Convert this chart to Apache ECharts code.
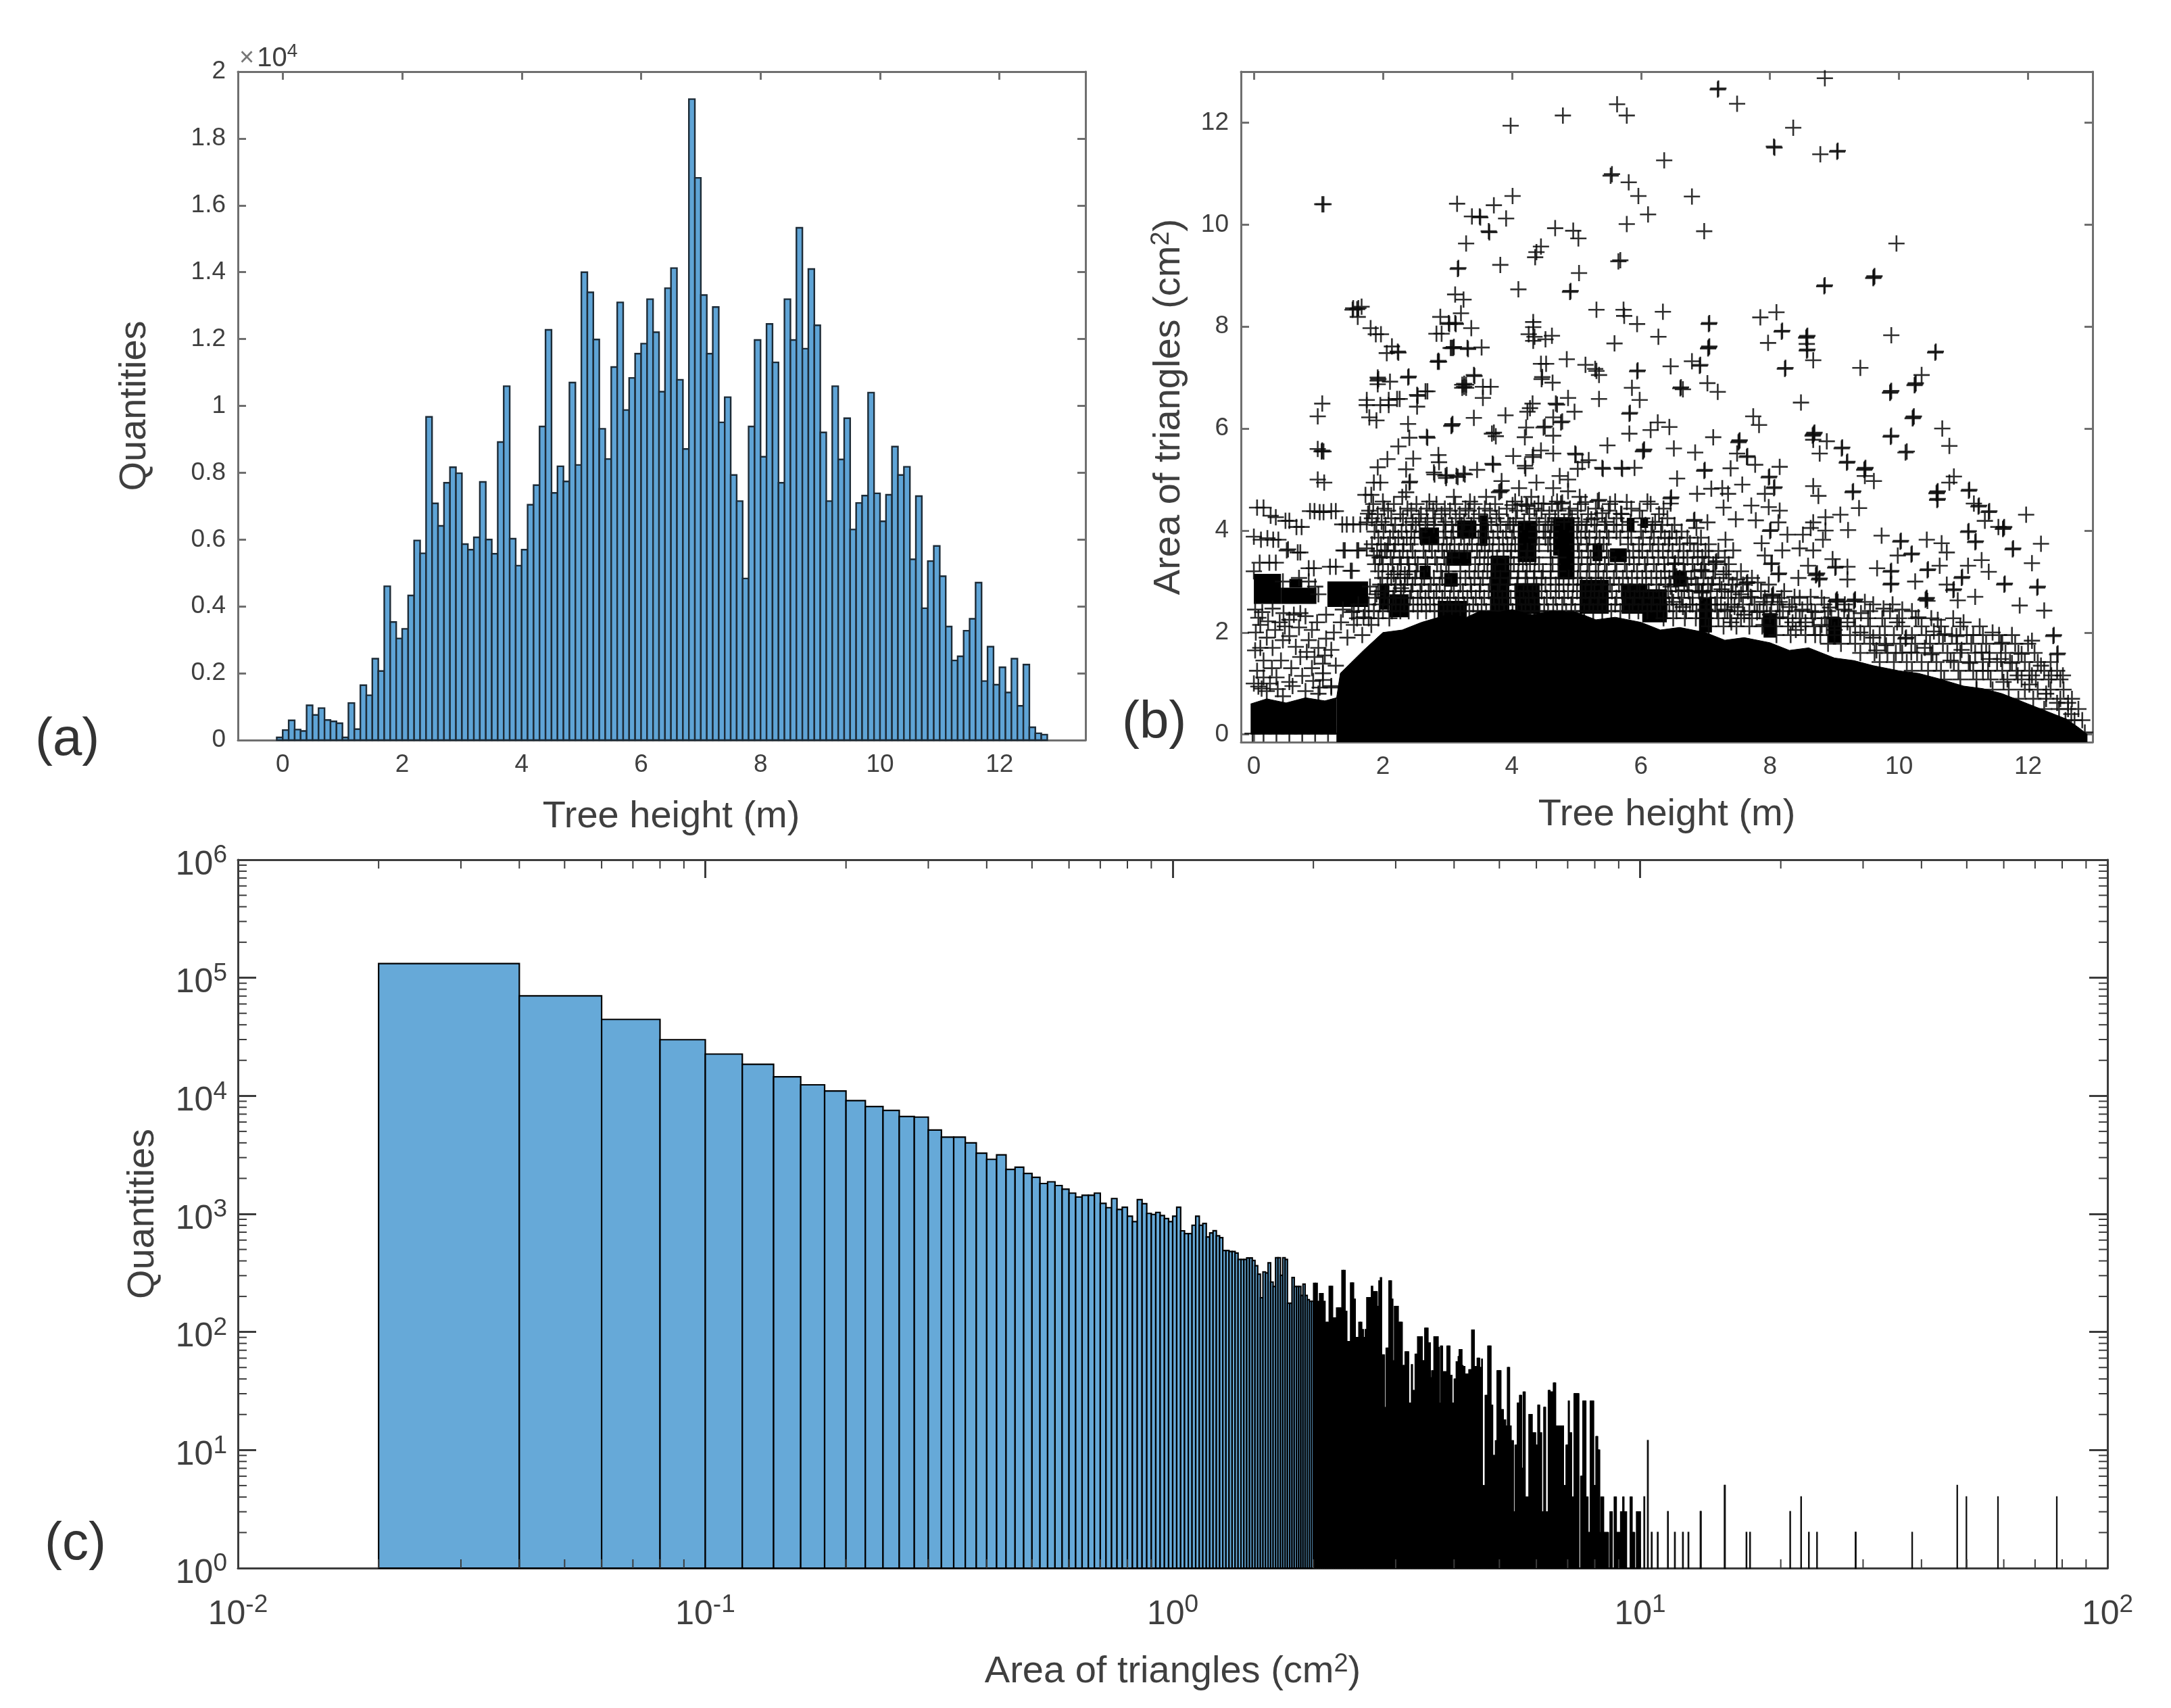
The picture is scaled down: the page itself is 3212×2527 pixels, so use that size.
<!DOCTYPE html>
<html><head><meta charset="utf-8"><style>html,body{margin:0;padding:0;background:#fff}#c{width:3212px;height:2527px}</style>
<script src="https://cdn.jsdelivr.net/npm/echarts@6/dist/echarts.min.js"></script></head><body><div id="c"></div>
<script>
// Panel (a): histogram of tree height, bins 0.1 m wide, first bin starts at -0.1
const heightBinStart = -0.1, heightBinWidth = 0.1;
const heightCounts = [80,300,590,315,274,1041,753,959,603,562,507,82,1110,329,1644,1342,2438,2068,4603,3534,3041,3329,4329,5973,5589,9671,7082,6411,7699,8164,7986,5863,5699,6068,7726,6000,5575,8918,10589,6027,5219,5699,7041,7630,9384,12274,7397,8192,7740,10699,8233,14000,13397,11986,9315,8411,11164,13096,9877,10836,11562,11863,13192,12205,10425,13521,14123,10781,8712,19178,16822,13315,11562,12959,9507,10260,7932,7151,4836,9384,11973,8479,12452,11301,7699,13192,11973,15329,11712,14096,12411,9205,7151,10589,8397,9630,6301,7096,7315,10397,7384,6548,7342,8781,7932,8178,5411,7301,3945,5356,5808,4904,3397,2384,2507,3274,3630,4712,1767,2795,1658,2178,1425,2438,1027,2260,384,205,164];
const heightTicks = [0,2,4,6,8,10,12];
const countTicks = [0,2000,4000,6000,8000,10000,12000,14000,16000,18000,20000];
const countTickLabels = ['0','0.2','0.4','0.6','0.8','1','1.2','1.4','1.6','1.8','2'];

// Panel (b): solid part of the scatter, upper edge
const massLeftX = [-0.05,0.2,0.5,0.8,1.1,1.28];
const massLeftY = [0.6,0.7,0.62,0.72,0.66,0.72];
const massX = [1.28,1.34,1.5,1.7,2,2.3,2.6,3,3.3,3.5,3.8,4,4.3,4.6,5,5.3,5.6,6,6.3,6.6,7,7.3,7.6,8,8.3,8.6,9,9.3,9.6,10,10.3,10.6,11,11.3,11.6,12,12.3,12.6,12.8,12.92];
const massY = [0.7,1.2,1.4,1.65,2.0,2.05,2.2,2.35,2.3,2.42,2.4,2.45,2.35,2.42,2.4,2.25,2.3,2.2,2.05,2.1,2.0,1.85,1.9,1.8,1.65,1.7,1.5,1.45,1.35,1.25,1.2,1.1,0.95,0.9,0.8,0.6,0.45,0.3,0.12,0];
// Overplotted regions where the crosses merge to black: [x0, x1, y0, y1]
const blackBlocks = [[0.0,0.42,2.56,3.15],[0.42,0.97,2.56,2.88],[1.14,1.77,2.5,3.0],[0.55,0.75,2.88,3.05],[2.57,2.87,3.72,4.06],[4.09,4.38,3.38,4.19],[4.64,4.97,3.51,4.26],[4.72,4.97,3.04,3.51],[5.78,5.9,3.98,4.25],[5.99,6.11,4.05,4.25],[5.52,5.78,3.38,3.65],[2.99,3.37,3.31,3.58],[2.57,2.74,3.04,3.31],[2.95,3.16,2.9,3.17],[3.67,3.96,2.37,3.51],[4.05,4.43,2.37,2.97],[5.05,5.5,2.37,3.03],[5.7,6.1,2.37,2.95],[6.02,6.4,2.2,2.85],[6.9,7.1,2.0,2.68],[7.9,8.1,1.9,2.38],[8.9,9.1,1.8,2.3],[2.1,2.4,2.3,2.75],[2.85,3.3,2.3,2.62],[3.15,3.45,3.85,4.2],[3.5,3.62,3.7,4.3],[1.95,2.1,2.45,2.95],[5.25,5.4,3.4,3.75],[6.5,6.7,2.9,3.2]];
// Panel (b): individual crosses, [height, area]
const plusPoints = [
[3.98,11.94],[4.79,12.14],[5.63,12.36],[5.78,12.14],[6.36,11.26],[5.53,10.96],[5.55,10.99],[5.81,10.83],[5.96,10.56],[6.11,10.20],[5.78,10.01],[4.01,10.56],[3.72,10.38],[3.15,10.41],[3.38,10.16],[3.50,10.16],[3.51,10.14],[3.91,10.12],[3.64,9.87],[3.65,9.85],[3.29,9.63],[3.82,9.21],[3.16,9.13],[3.17,9.15],[4.10,8.73],[4.67,9.93],[4.95,9.88],[5.03,9.73],[4.45,9.57],[4.38,9.46],[4.36,9.36],[5.65,9.28],[5.68,9.30],[5.04,9.05],[4.90,8.68],[4.91,8.70],[5.31,8.33],[5.73,8.33],[5.74,8.21],[5.94,8.05],[6.34,8.29],[5.59,7.67],[6.27,7.80],
[3.12,8.63],[3.25,8.53],[3.21,8.26],[2.89,8.19],[3.02,8.07],[3.03,8.05],[3.12,8.07],[3.13,8.05],[3.37,7.97],[2.83,7.86],[2.91,7.86],[3.05,7.58],[3.07,7.58],[3.09,7.58],[3.10,7.60],[3.31,7.58],[3.32,7.56],[3.53,7.59],[2.85,7.31],[2.87,7.31],[2.86,7.33],
[1.54,8.36],[1.60,8.34],[1.62,8.36],[1.67,8.39],[1.53,8.33],[1.61,8.19],[1.81,7.97],[1.89,7.85],[1.97,7.85],[2.14,7.61],[2.06,7.48],[2.23,7.51],[2.24,7.49],
[1.06,10.40],[1.08,10.40],[1.06,6.49],[0.99,6.24],[0.99,5.60],[1.05,5.55],[1.08,5.55],[1.06,5.57],[0.99,5.00],[1.09,4.94],
[1.92,7.00],[1.92,6.87],[1.92,6.94],[1.93,6.97],[2.11,6.92],[2.39,7.00],[2.40,7.02],[1.75,6.46],[1.75,6.56],[2.09,6.46],[2.09,6.56],[2.22,6.58],[2.26,6.58],[2.53,6.66],[2.54,6.64],[2.53,6.43],[2.69,6.73],[2.66,6.73],[1.90,6.16],[1.79,6.22],[1.96,6.46],[2.39,6.09],[3.07,6.07],[3.08,6.09],[3.06,6.05],[3.41,6.21],[2.41,5.82],[2.24,5.65],[2.69,5.82],[2.68,5.84],
[3.23,6.80],[3.26,6.82],[3.29,6.80],[3.23,6.86],[3.26,6.88],[3.29,6.86],[3.41,7.05],[3.42,7.03],[3.55,6.60],[3.67,6.82],[3.55,6.82],[3.90,6.26],[3.69,5.90],[3.72,5.92],[3.75,5.85],[4.20,5.83],[4.22,6.02],[4.33,8.09],[4.33,7.99],[4.26,7.85],[4.33,7.72],[4.35,7.80],[4.52,7.75],[4.62,7.82],[4.45,7.27],[4.53,7.27],[4.85,7.36],[4.46,6.97],[4.47,7.01],[4.63,6.90],[4.87,6.60],[4.68,6.49],[4.70,6.47],[4.32,6.49],[4.24,6.33],[4.28,6.40],[4.97,6.33],[4.76,6.12],[4.78,6.14],[4.64,6.22],[4.49,6.02],[4.51,6.04],[4.64,5.86],
[5.14,7.25],[5.29,7.17],[5.31,7.13],[5.35,7.05],[5.35,6.58],[5.94,7.12],[5.95,7.14],[5.86,6.80],[5.98,6.56],[5.82,6.29],[5.83,6.31],[5.82,5.90],[6.26,6.12],[6.15,5.97],[6.04,5.57],[6.05,5.59],[6.03,5.55],[5.48,5.67],[4.64,5.51],[4.45,5.57],[4.32,5.44],[4.33,5.48],[4.02,5.46],[4.20,5.27],[4.21,5.22],[4.98,5.51],[4.99,5.49],[5.09,5.34],[5.19,5.38],[5.40,5.23],[5.41,5.21],[5.70,5.23],[5.71,5.21],[5.90,5.23],
[3.70,5.31],[3.71,5.29],[3.46,5.19],[3.25,5.12],[3.27,5.10],[3.14,5.07],[3.16,5.05],[2.97,5.07],[2.99,5.09],[2.98,5.03],[2.79,5.14],[2.80,5.10],[2.86,5.48],[2.87,5.34],[2.07,5.40],[1.92,5.24],[2.36,5.20],[2.47,5.41],[2.41,4.94],[2.42,4.96],[2.36,4.75],[1.96,4.94],[1.86,4.94],[1.73,4.70],[1.82,4.70],[3.84,4.97],[3.82,4.77],[3.84,4.79],[3.80,4.75],[4.11,4.83],[4.38,4.94],[4.64,4.83],[4.74,5.07],[4.87,5.00],[4.87,4.77],[5.02,5.21],[5.78,4.56],[5.33,4.58],[5.35,4.60],[5.14,4.56],[4.76,4.53],[4.78,4.55],[4.49,4.53],[4.41,4.53],[4.22,4.50],[4.24,4.48],[4.01,4.50],[5.40,4.34],[5.69,4.33],[5.23,4.22],
[0.05,4.45],[0.15,4.45],[0.26,4.29],[0.34,4.26],[0.49,4.19],[0.55,4.19],[0.66,4.07],[0.74,4.07],[0.87,4.38],[0.94,4.38],[1.02,4.36],[1.08,4.36],[1.20,4.38],[1.27,4.38],[1.37,4.12],[1.44,4.12],[1.54,4.12],[1.65,4.12],[1.75,4.16],[1.77,4.33],
[0.0,3.88],[0.11,3.82],[0.21,3.85],[0.30,3.82],[0.38,3.82],[0.51,3.61],[0.53,3.63],[0.68,3.57],[0.72,3.57],[1.39,3.61],[1.41,3.61],[1.60,3.61],[1.62,3.61],[1.75,3.65],[1.86,3.51],[1.98,3.48],[2.03,3.61],[0.85,3.26],[0.93,3.26],[1.18,3.29],[1.27,3.29],[1.50,3.21],[1.52,3.21],[2.28,2.87],[2.17,3.14],[2.34,3.14],
[0.09,3.37],[0.24,3.37],[0.34,3.37],[0.70,3.07],[0.0,3.2],[0.45,3.0],[0.85,3.0],[0.95,2.9],[1.0,2.75],[1.8,2.9],[1.9,2.75],
[0.03,2.0],[0.1,2.15],[0.1,1.7],[0.29,1.7],[0.55,1.93],[0.72,1.52],[0.94,1.52],[1.07,1.2],[1.07,1.07],[1.2,1.66],[0.98,2.2],[0.72,2.38],[0.46,2.38],[0.29,2.47],[0.07,2.29],[0.55,1.03],[0.07,0.94],[0.2,0.85],[0.37,0.89],[1.07,1.39],[1.24,2.0],[0.4,2.2],[0.55,2.25],[0.7,2.1],[0.85,1.85],[0.15,1.45],[0.05,1.25],[0.9,1.3],[1.1,1.55],[1.35,2.2],[1.45,1.9],[1.55,2.15],[1.7,2.3],
[0.02,2.45],[0.13,2.4],[0.22,2.22],[0.33,2.05],[0.48,2.12],[0.62,2.35],[0.8,2.32],[0.9,2.05],[1.12,2.35],[1.0,1.7],[0.82,1.62],[0.65,1.72],[0.45,1.85],[0.2,1.9],[0.02,1.65],[0.28,1.3],[0.42,1.45],[0.58,1.3],[0.75,1.15],[0.92,1.05],[1.12,1.88],[1.27,1.35],[1.2,0.92],[1.02,0.92],[0.35,1.12],[0.15,1.12],[1.38,2.45],[1.52,2.4],[1.68,1.95],[1.82,2.15],
// right half, read one by one
[8.85,12.87],[7.19,12.65],[7.20,12.67],[7.49,12.37],[8.36,11.90],[8.06,11.53],[8.07,11.51],[8.78,11.38],[9.04,11.43],[9.05,11.45],[6.79,10.55],[6.98,9.87],[9.96,9.63],[9.61,8.97],[9.62,8.99],[9.60,8.95],[8.84,8.79],[8.85,8.81],[7.05,8.05],[7.06,8.07],[7.05,7.59],[7.06,7.61],[7.04,7.57],[7.85,8.18],[8.10,8.28],[8.18,7.90],[8.19,7.92],[7.97,7.68],[8.57,7.80],[8.58,7.82],[8.56,7.78],[8.57,7.53],[8.58,7.55],[8.57,7.66],[8.67,7.34],[8.23,7.17],[8.24,7.19],[9.88,7.83],[10.56,7.49],[10.57,7.51],[9.40,7.19],[10.35,7.05],[10.25,6.87],[10.26,6.89],[10.24,6.85],[9.87,6.72],[9.88,6.74],[9.86,6.70],[10.22,6.22],[10.23,6.24],[10.21,6.20],[10.67,6.00],[10.78,5.66],[9.87,5.84],[9.88,5.86],[10.10,5.53],[10.12,5.55],[8.48,6.51],[7.74,6.24],[7.83,6.07],[8.67,5.88],[8.68,5.90],[8.66,5.86],[8.69,5.92],[8.67,5.78],[8.88,5.75],[8.77,5.51],[9.11,5.61],[9.12,5.63],[9.19,5.33],[9.20,5.35],[9.47,5.21],[9.48,5.23],[9.46,5.19],[9.47,5.07],[9.61,4.97],
[6.46,7.22],[6.79,7.32],[6.91,7.23],[6.92,7.25],[6.61,6.79],[6.62,6.81],[6.65,6.77],[7.03,6.89],[7.19,6.72],[6.44,6.03],[7.12,5.83],[7.52,5.75],[7.53,5.77],[7.51,5.73],[6.51,5.61],[6.84,5.53],[7.49,5.51],[7.64,5.44],[7.65,5.46],[7.77,5.29],[8.15,5.25],[7.98,5.04],[7.99,5.06],[8.06,4.83],[8.07,4.85],[6.98,5.17],[6.99,5.19],[7.39,5.22],[6.56,5.02],[7.57,4.90],[7.09,4.82],[7.26,4.83],[7.35,4.72],[6.87,4.72],[6.46,4.63],[6.47,4.65],[6.46,4.53],[7.92,4.72],[7.98,4.46],[8.67,4.87],[8.75,4.68],[9.28,4.75],[9.29,4.77],[9.38,4.44],[9.09,4.31],[8.86,4.26],[9.21,4.01],[8.15,4.39],[7.71,4.49],[7.28,4.45],[7.47,4.22],[7.78,4.20],[6.82,4.19],[6.83,4.21],[6.86,4.05],[7.03,4.16],[8.13,4.16],[8.0,3.99],[8.01,4.01],[8.67,4.16],[8.63,4.05],[8.86,4.0],[8.51,3.92],[8.27,3.92],[7.87,3.75],[8.82,3.82],[8.46,3.65],[8.67,3.61],[8.19,3.61],[7.92,3.51],[6.44,3.85],[6.76,3.75],[7.31,3.82],[7.43,3.61],[6.95,3.48],[7.16,3.38],[7.17,3.40],[6.52,3.34],[6.53,3.36],[6.93,3.21],[6.94,3.23],[8.02,3.34],[8.03,3.36],[8.13,3.14],[8.14,3.16],[8.59,3.31],[8.72,3.14],[8.73,3.16],[8.71,3.12],[8.97,3.44],[9.01,3.27],[9.02,3.29],[9.20,3.29],[8.76,3.04],[8.77,3.06],[9.20,3.04],[8.44,3.07],[7.28,3.14],[7.49,3.04],[7.64,2.97],[7.65,2.99],[7.81,2.98],[6.95,2.80],[6.96,2.82],[6.94,2.78],[6.67,2.83],[6.46,2.90],[8.04,2.73],[8.05,2.75],[8.03,2.71],[8.63,2.70],[8.38,2.70],[9.03,2.63],[9.04,2.65],[9.02,2.61],[9.05,2.60],[9.31,2.63],[9.32,2.65],[9.30,2.61],[8.93,2.49],[9.47,2.60],
[6.55,3.1],[6.7,3.05],[6.85,2.95],[7.1,2.95],[7.25,2.85],[7.4,2.8],[7.55,2.75],[7.7,2.7],[7.9,2.6],[8.15,2.6],[8.3,2.5],[8.5,2.45],[8.7,2.4],[6.5,2.6],[6.65,2.5],[6.8,2.55],[7.0,2.45],[7.15,2.55],[7.3,2.45],[7.45,2.5],[7.6,2.35],[7.8,2.4],[8.0,2.35],[8.15,2.3],[8.35,2.2],[8.55,2.2],[8.8,2.15],[9.0,2.05],[9.2,2.2],[9.4,2.0],[9.6,1.9],[9.8,1.75],[8.95,2.3],[9.15,2.45],[7.4,2.2],[7.9,2.15],[8.4,2.05],[8.7,1.95],
[9.66,3.26],[9.87,3.19],[9.88,3.21],[9.87,2.94],[9.88,2.96],[9.73,3.90],[10.02,3.78],[10.03,3.80],[10.19,3.53],[10.20,3.55],[9.98,3.51],[10.43,3.82],[10.66,3.75],[10.74,3.57],[10.44,3.22],[10.45,3.24],[10.63,3.31],[10.25,3.00],[10.97,3.07],[10.98,3.09],[10.74,2.94],[10.84,2.83],[10.85,2.85],[10.42,2.66],[10.43,2.68],[10.41,2.64],[10.44,2.62],[11.07,3.31],[11.28,3.42],[11.39,3.19],[11.63,2.94],[11.64,2.96],[11.18,2.70],[10.91,2.63],[12.06,3.36],[12.14,2.88],[12.15,2.90],[11.87,2.53],[12.25,2.43],[12.20,3.74],[11.76,3.63],[11.77,3.65],[11.97,4.31],[11.62,4.05],[11.63,4.07],[11.61,4.03],[11.54,4.07],[11.39,4.36],[11.40,4.38],[11.23,4.47],[11.24,4.49],[11.16,4.53],[11.08,4.78],[11.09,4.80],[10.85,5.06],[10.78,4.94],[10.59,4.75],[10.60,4.77],[10.58,4.73],[10.59,4.60],[10.60,4.62],[11.07,3.97],[11.08,3.99],[11.18,3.77],[11.19,3.79],[11.33,4.19],
[11.9,1.58],[12.06,1.84],[12.39,1.93],[12.40,1.95],[12.45,1.57],[12.46,1.59],[12.54,1.16],[12.36,1.16],[12.06,1.16],[12.62,0.62],[12.45,0.62],[12.67,0.4],[11.58,1.48],[11.4,1.48],[11.28,1.61],[10.97,1.66],[10.71,1.97],[10.54,2.02],[10.89,1.93],[10.1,1.88],[10.11,1.90],[10.5,1.57],[9.97,2.2],[9.76,2.47],[9.41,2.38],[10.19,1.61],[11.84,1.16],[11.62,1.03],[12.28,0.8],[12.02,0.98],[12.88,0.04],[10.3,2.3],[10.05,2.45],[10.6,2.25],[11.0,2.2],[11.15,1.95],[11.45,2.0],[11.6,1.8],[11.75,1.4],[11.3,1.25],[11.1,1.4],[10.8,1.45],[10.4,1.7],[9.95,1.6],[9.65,1.65],[12.2,1.35],
[-0.02,0.02],[0.15,0.02],[0.35,0.02],[0.55,0.02],[0.75,0.02],[0.95,0.02],[1.15,0.02],[1.3,0.02],[0.0,1.0],[0.12,0.9],[0.25,1.0],[0.45,0.75],[0.6,0.95],[0.8,0.85],[1.0,0.8],[1.2,0.95]
];
// Panel (b): the crowded band, read row by row: [area, height, height, ...]
const crowdedRows = [
[4.66,2.3,3.1,3.6,4.3,5.05],
[4.57,2.0,2.72,3.35,4.05,4.7,5.6,6.1],
[4.52,1.85,2.17,2.52,2.83,3.12,3.42,3.74,4.15,4.62,5.07,5.52,6.15],
[4.43,2.02,2.38,2.68,2.96,3.28,3.58,3.92,4.35,4.9,5.3,5.85,6.35],
[4.39,1.79,2.08,2.44,2.78,3.04,3.33,3.66,4.08,4.46,4.72,5.02,5.5,5.98],
[4.32,1.92,2.27,2.59,2.91,3.19,3.49,3.8,4.27,4.58,4.88,5.18,5.7,6.28],
[4.24,1.83,2.13,2.31,2.56,2.81,3.13,3.41,3.76,4.06,4.38,4.67,4.93,5.32,5.62,6.02,6.41],
[4.17,1.98,2.46,2.69,2.97,3.26,3.62,3.94,4.19,4.52,4.81,5.08,5.46,5.84,6.22],
[4.11,1.9,2.04,2.19,2.36,2.51,2.66,2.79,2.94,3.07,3.22,3.37,3.52,3.68,3.82,3.97,4.02,4.42,4.56,4.62,5.03,5.16,5.28,5.44,5.58,5.71,6.07,6.18,6.33,6.52],
[3.98,1.87,2.01,2.16,2.29,2.44,2.57,2.97,3.09,3.24,3.39,3.51,3.63,3.78,3.91,4.03,4.38,4.49,4.6,5.01,5.14,5.31,5.47,5.62,5.8,6.0,6.16,6.31,6.48,6.63],
[3.86,1.93,2.11,2.24,2.37,2.49,2.6,2.94,3.06,3.21,3.34,3.48,3.59,3.71,3.86,4.0,4.38,4.52,4.59,5.07,5.2,5.36,5.5,5.68,5.85,6.03,6.2,6.37,6.55,6.72,6.93],
[3.73,1.83,1.97,2.08,2.19,2.32,2.43,2.72,2.86,2.99,3.11,3.26,3.38,3.53,3.65,3.8,3.93,4.05,4.42,4.56,5.02,5.16,5.29,5.42,5.8,5.97,6.14,6.27,6.43,6.6,6.88,7.05],
[3.6,1.91,2.06,2.17,2.31,2.46,2.63,2.76,2.92,3.04,3.18,3.31,3.46,3.58,3.7,3.87,3.99,4.11,4.24,4.35,4.6,5.04,5.18,5.34,5.47,5.88,6.02,6.18,6.34,6.49,6.66,6.82,7.0,7.2],
[3.47,1.95,2.12,2.26,2.38,2.5,2.66,2.81,2.95,3.07,3.5,3.63,3.77,3.98,4.11,4.22,4.36,4.6,4.72,5.08,5.22,5.36,5.5,5.82,5.97,6.1,6.27,6.42,6.58,6.72,6.88,7.05,7.3],
[3.34,1.88,2.0,2.15,2.28,2.4,2.54,2.69,2.84,2.98,3.43,3.57,3.7,3.9,4.03,4.17,4.28,4.42,4.63,5.03,5.17,5.3,5.44,5.6,5.75,5.89,6.06,6.2,6.36,6.52,6.66,6.8,6.98,7.12,7.36],
[3.2,1.93,2.08,2.23,2.41,2.52,2.9,3.02,3.2,3.34,3.48,3.62,3.74,3.98,4.1,4.23,4.35,4.48,4.6,4.72,5.06,5.2,5.34,5.47,5.62,5.78,5.94,6.08,6.24,6.37,6.5,6.68,6.83,7.0,7.15,7.32,7.55],
[3.07,1.99,2.13,2.27,2.38,2.5,2.64,2.79,2.92,3.28,3.42,3.55,3.68,3.82,3.97,4.09,4.21,4.34,4.46,4.6,4.73,4.88,5.02,5.16,5.3,5.42,5.58,5.72,5.86,6.02,6.16,6.31,6.44,6.6,6.78,6.97,7.12,7.36,7.72],
[2.94,1.96,2.07,2.2,2.34,2.46,2.6,2.74,2.88,3.06,3.2,3.36,3.51,3.66,3.81,3.94,4.08,4.24,4.38,4.52,4.68,4.8,4.95,5.08,5.23,5.38,5.52,5.66,5.8,5.94,6.08,6.24,6.38,6.54,6.72,6.88,7.04,7.22,7.42,7.58,7.98],
[2.81,1.93,2.04,2.18,2.32,2.44,2.58,2.71,2.83,2.96,3.1,3.24,3.37,3.5,3.64,3.78,3.92,4.05,4.18,4.32,4.46,4.6,4.73,4.87,5.01,5.14,5.28,5.41,5.55,5.7,5.83,5.98,6.12,6.28,6.42,6.58,6.74,6.9,7.08,7.3,7.47,7.66,7.86,8.22],
[2.68,1.88,2.02,2.16,2.28,2.42,2.54,2.66,2.79,2.92,3.04,3.17,3.31,3.44,3.57,3.72,3.85,3.98,4.12,4.26,4.41,4.54,4.68,4.81,4.94,5.08,5.22,5.35,5.48,5.62,5.76,5.9,6.04,6.19,6.34,6.48,6.63,6.8,7.02,7.18,7.35,7.52,7.72,7.92,8.18,8.46,8.8],
[2.55,1.62,1.78,1.95,2.08,2.2,2.33,2.47,2.6,2.73,2.87,3.0,3.13,3.26,3.4,3.53,3.67,3.8,3.94,4.08,4.21,4.35,4.5,4.64,4.78,4.92,5.06,5.2,5.33,5.47,5.6,5.73,5.87,6.02,6.16,6.3,6.44,6.6,6.76,6.92,7.08,7.24,7.4,7.58,7.76,7.95,8.12,8.34,8.58,8.84,9.16,9.6,9.9],
[2.42,1.55,1.72,1.86,2.0,2.14,2.27,2.4,2.54,2.67,2.8,2.94,3.07,3.2,3.34,3.47,3.6,3.74,3.88,4.01,4.15,4.29,4.43,4.56,4.7,4.84,4.98,5.12,5.26,5.4,5.54,5.68,5.82,5.96,6.1,6.25,6.4,6.55,6.7,6.86,7.02,7.18,7.34,7.5,7.68,7.84,8.02,8.2,8.4,8.64,8.9,9.22,9.55,9.86,10.2],
[2.28,1.6,1.78,1.93,2.1,6.35,6.5,6.68,6.85,7.0,7.2,7.38,7.55,7.72,7.9,8.1,8.28,8.46,8.66,8.85,9.06,9.3,9.52,9.74,10.0,10.26,10.5,10.84],
[2.12,7.05,7.28,7.48,7.68,7.88,8.08,8.28,8.48,8.68,8.88,9.1,9.32,9.55,9.78,10.05,10.35,10.65,10.95,11.25],
[1.95,8.1,8.32,8.55,8.78,9.0,9.24,9.46,9.7,9.92,10.2,10.42,10.62,10.82,11.05,11.3,11.55,11.75],
[1.78,8.9,9.1,9.32,9.55,9.78,10.02,10.25,10.48,10.68,10.9,11.12,11.35,11.58,11.8,12.0],
[1.6,9.4,9.62,9.82,10.05,10.28,10.52,10.75,10.95,11.18,11.4,11.65,11.85,12.1],
[1.42,9.7,9.92,10.12,10.35,10.58,10.85,11.08,11.3,11.52,11.72,11.95,12.15,12.35],
[1.25,10.2,10.45,10.65,10.92,11.15,11.38,11.6,11.82,12.02,12.25,12.45],
[1.08,10.7,10.95,11.2,11.42,11.68,11.9,12.12,12.32,12.5],
[0.88,11.2,11.45,11.7,11.95,12.15,12.35,12.55],
[0.7,11.85,12.08,12.28,12.5,12.68],
[0.5,12.25,12.48,12.62,12.78],
[0.28,12.58,12.72,12.84]
];
const plotTicksY = [0,2,4,6,8,10,12];
// Panel (c): histogram of triangle area, bins 0.02 cm2 wide, first bin starts at 0.02
const areaBinWidth = 0.02;
const blueBins = [132000,70300,44400,29900,22600,18500,14500,12400,11000,9120,8110,7520,6680,6610,5140,4470,4470,4000,3270,2900,3160,2380,2490,2200,2040,1810,1870,1740,1620,1500,1390,1440,1440,1500,1230,1130,1350,1090,1140,957,861,1320,1220,1010,990,1030,968,914,861,957,1140,719,682,682,802,957,802,830,638,690,721,653,630,490,490,480,480,466,411,411,411,424,424,403,364,309,195,323,316,385,265,243,426,426,302,426,411,175,175,289,243,243,243,204,254,204,188,182,182];
const narrowBins = [259,259,182,212,212,182,121,121,244,244,132,132,160,160,160,333,333,150,83,83,261,261,190,90,90,121,121,105,90,105,196,196,196,244,220,220,220,165,271,289,64,64,23,73,73,271,271,190,57,165,165,165,121,121,121,52,52,68,68,68,25,25,53,32,32,65,65,91,91,91,91,57,57,108,108,108,81,81,41,47,47,91,91,91,91,74,25,76,76,46,46,46,46,76,76,76,43,43,25,25,40,40,56,56,62,71,71,71,52,51,51,44,44,44,44,48,48,48,104,104,104,51,51,51,60,60,60,50,50,59,5,5,5,29,29,29,76,76,76,76,24,24,9,9,9,12,12,47,47,47,47,47,22,22,22,18,18,18,16,16,50,50,50,16,16,12,12,12,3,3,11,11,11,25,25,25,29,29,29,7,7,31,31,31,4,4,4,4,4,20,20,20,20,20,14,14,14,14,14,11,11,11,24,24,24,14,14,14,3,3,3,23,23,23,3,3,3,3,32,32,32,31,31,31,31,31,37,37,37,37,16,16,16,16,16,16,16,16,16,16,16,16,16,5,5,5,5,11,11,11,11,26,26,14,14,14,14,4,4,4,4,30,30,30,30,30,30,30,30,30,1,1,1,6,6,6,6,26,26,26,26,26,26,4,4,4,4,2,2,2,2,26,26,26,26,26,26,26,5,5,5,5,13,13,13,13,10,10,10,10,2,2,4,4,4,4,4,4,2,2,2,2,2,2,2,2,2,2,1,1,1,3,3,3,3,3,1,1,1,1,4,4,4,4,4,2,2,2,2,2,2,2,2,2,3,3,3,3,3,4,4,4,3,3,3,3,3,3,1,1,1,1,1,1,1,1,4,4,4,4,4,2,2,2,2,2,2,1,1,1,1,3,3,3,3,3,3,3,3,3,3];
const sparseLeftEdges = [10.2,10.38,10.58,10.9,11.46,11.86,12.34,12.68,13.46,13.48,15.16,15.18,16.88,17.18,20.94,22.1,22.96,23.9,28.9,28.92,38.2,47.7,49.9,58.3,77.9];
const sparseCounts = [4,12,2,2,3,2,2,2,3,3,5,5,2,2,3,4,2,2,2,2,2,5,4,4,4];
const minorAreaTicks = [0.02,0.03,0.04,0.05,0.06,0.07,0.08,0.09,0.2,0.3,0.4,0.5,0.6,0.7,0.8,0.9,2,3,4,5,6,7,8,9,20,30,40,50,60,70,80,90];
const minorCountTicks = [2,3,4,5,6,7,8,9,20,30,40,50,60,70,80,90,200,300,400,500,600,700,800,900,2000,3000,4000,5000,6000,7000,8000,9000,20000,30000,40000,50000,60000,70000,80000,90000,200000,300000,400000,500000,600000,700000,800000,900000];

const FONT = '"Liberation Sans", Arial, sans-serif';
const TXT = '#3f3f3f', AX = '#6f6f6f', AXC = '#3c3c3c', BLUE = '#66a9d8';
const histA = heightCounts.map((q, i) => [heightBinStart + i * heightBinWidth, heightBinStart + (i + 1) * heightBinWidth, q]);
const histC = blueBins.concat(narrowBins).map((q, i) => [areaBinWidth * (i + 1), areaBinWidth * (i + 2), q, i < blueBins.length ? 0 : 1]);
const histS = sparseLeftEdges.map((x, i) => [x, x + areaBinWidth, sparseCounts[i], 1]);
const allCrosses = plusPoints.slice();
crowdedRows.forEach(r => r.slice(1).forEach(x => allCrosses.push([x, r[0]])));

function rectItem(params, api, fill, stroke, lw, base) {
  const p0 = api.coord([api.value(0), api.value(2)]);
  const p1 = api.coord([api.value(1), base]);
  return {type: 'rect', shape: {x: p0[0], y: p0[1], width: p1[0] - p0[0], height: p1[1] - p0[1]},
          style: {fill: fill, stroke: stroke, lineWidth: lw}};
}
function linAxis(grid, pos, min, max, ticks, fmt, nameCfg, shown) {
  const o = {type: 'value', gridIndex: grid, position: pos, min: min, max: max, scale: true,
    splitLine: {show: false},
    axisLine: {show: true, onZero: false, lineStyle: {color: AX, width: 3}},
    axisTick: {show: true, inside: true, length: 12, customValues: ticks, lineStyle: {color: AX, width: 3}},
    axisLabel: {show: shown, customValues: ticks, color: TXT, fontFamily: FONT, fontSize: 37, margin: 18, formatter: fmt, hideOverlap: false, showMinLabel: true, showMaxLabel: true}};
  return Object.assign(o, nameCfg || {});
}
function logAxis(grid, pos, min, max, nameCfg, shown, margin) {
  const o = {type: 'log', logBase: 10, gridIndex: grid, position: pos, min: min, max: max,
    splitLine: {show: false},
    axisLine: {show: true, onZero: false, lineStyle: {color: AXC, width: 3}},
    axisTick: {show: true, inside: true, length: 27, lineStyle: {color: AXC, width: 3}},
    axisLabel: {show: shown, margin: margin, showMinLabel: true, showMaxLabel: true,
      formatter: v => '{b|10}{s|' + Math.round(Math.log10(v)) + '}',
      rich: {b: {fontFamily: FONT, fontSize: 50, color: TXT, padding: [16, 0, 0, 0]}, s: {fontFamily: FONT, fontSize: 37, color: TXT, padding: [0, 0, 12, 0]}}}};
  return Object.assign(o, nameCfg || {});
}
const nameStyle = {color: TXT, fontFamily: FONT, fontSize: 56,
  rich: {s: {fontFamily: FONT, fontSize: 38, color: TXT, padding: [0, 0, 22, 0]}}};
const fmtPlain = v => String(v);
const fmtCount = v => countTickLabels[countTicks.indexOf(v)];

const option = {
  animation: false, backgroundColor: '#fff',
  grid: [
    {left: 352, top: 106, width: 1254, height: 989},
    {left: 1836, top: 106, width: 1260, height: 992},
    {left: 352, top: 1272, width: 2766, height: 1048}
  ],
  xAxis: [
    linAxis(0, 'bottom', -0.75, 13.44, heightTicks, fmtPlain, {name: 'Tree height (m)', nameLocation: 'middle', nameGap: 86, nameTextStyle: Object.assign({padding: [0, 0, 0, 28]}, nameStyle)}, true),
    linAxis(0, 'top', -0.75, 13.44, heightTicks, fmtPlain, null, false),
    linAxis(1, 'bottom', -0.2, 13, heightTicks, fmtPlain, {name: 'Tree height (m)', nameLocation: 'middle', nameGap: 80, nameTextStyle: nameStyle}, true),
    linAxis(1, 'top', -0.2, 13, heightTicks, fmtPlain, null, false),
    logAxis(2, 'bottom', 0.01, 100, {name: 'Area of triangles (cm{s|2})', nameLocation: 'middle', nameGap: 124, nameTextStyle: nameStyle}, true, 28),
    logAxis(2, 'top', 0.01, 100, null, false, 8)
  ],
  yAxis: [
    linAxis(0, 'left', 0, 20000, countTicks, fmtCount, {name: 'Quantities', nameLocation: 'middle', nameGap: 124, nameTextStyle: nameStyle}, true),
    linAxis(0, 'right', 0, 20000, countTicks, fmtCount, null, false),
    linAxis(1, 'left', -0.15, 13, plotTicksY, fmtPlain, {name: 'Area of triangles (cm{s|2})', nameLocation: 'middle', nameGap: 76, nameTextStyle: nameStyle}, true),
    linAxis(1, 'right', -0.15, 13, plotTicksY, fmtPlain, null, false),
    logAxis(2, 'left', 1, 1000000, {name: 'Quantities', nameLocation: 'middle', nameGap: 112, nameTextStyle: nameStyle}, true, 16),
    logAxis(2, 'right', 1, 1000000, null, false, 8)
  ],
  series: [
    {type: 'custom', xAxisIndex: 0, yAxisIndex: 0, data: histA, encode: {x: [0, 1], y: 2},
     renderItem: (p, api) => rectItem(p, api, '#5fa4d6', '#1d2b36', 2.4, 0)},
    {type: 'line', xAxisIndex: 2, yAxisIndex: 2, data: massLeftX.map((x, i) => [x, massLeftY[i]]), symbol: 'none',
     lineStyle: {color: '#000', width: 1}, areaStyle: {color: '#000', opacity: 1}},
    {type: 'line', xAxisIndex: 2, yAxisIndex: 2, data: massX.map((x, i) => [x, massY[i]]), symbol: 'none',
     lineStyle: {color: '#000', width: 1}, areaStyle: {color: '#000', opacity: 1, origin: 'start'}},
    {type: 'custom', xAxisIndex: 2, yAxisIndex: 2, data: blackBlocks, encode: {x: [0, 1], y: [2, 3]},
     renderItem: (p, api) => {
       const a = api.coord([api.value(0), api.value(3)]), b = api.coord([api.value(1), api.value(2)]);
       return {type: 'rect', shape: {x: a[0], y: a[1], width: b[0] - a[0], height: b[1] - a[1]}, style: {fill: '#000'}};
     }},
    {type: 'scatter', xAxisIndex: 2, yAxisIndex: 2, data: allCrosses, symbol: 'path://M0 10H20M10 0V20', symbolSize: 24,
     itemStyle: {color: 'none', borderColor: '#0c0c0c', borderWidth: 2.6, opacity: 0.85}, clip: true},
    {type: 'custom', xAxisIndex: 4, yAxisIndex: 4, data: histC, encode: {x: [0, 1], y: 2},
     renderItem: (p, api) => rectItem(p, api, api.value(3) ? '#000' : BLUE, '#000', api.value(3) ? 1.4 : 2.2, 1)},
    {type: 'custom', xAxisIndex: 4, yAxisIndex: 4, data: histS, encode: {x: [0, 1], y: 2},
     renderItem: (p, api) => rectItem(p, api, '#000', '#111', 2.2, 1)},
    {type: 'custom', xAxisIndex: 4, yAxisIndex: 4, data: minorAreaTicks.map(v => [v]), encode: {x: 0},
     renderItem: (p, api) => {
       const v = api.value(0), a = api.coord([v, 1]), b = api.coord([v, 1000000]);
       const st = {stroke: AXC, lineWidth: 2};
       return {type: 'group', children: [
         {type: 'line', shape: {x1: a[0], y1: a[1], x2: a[0], y2: a[1] - 13}, style: st},
         {type: 'line', shape: {x1: b[0], y1: b[1], x2: b[0], y2: b[1] + 13}, style: st}]};
     }},
    {type: 'custom', xAxisIndex: 4, yAxisIndex: 4, data: minorCountTicks.map(v => [v]), encode: {y: 0},
     renderItem: (p, api) => {
       const v = api.value(0), a = api.coord([0.01, v]), b = api.coord([100, v]);
       const st = {stroke: AXC, lineWidth: 2};
       return {type: 'group', children: [
         {type: 'line', shape: {x1: a[0], y1: a[1], x2: a[0] + 13, y2: a[1]}, style: st},
         {type: 'line', shape: {x1: b[0], y1: b[1], x2: b[0] - 13, y2: b[1]}, style: st}]};
     }}
  ],
  graphic: [
    {type: 'text', left: 354, top: 62, style: {text: '{x|\u00d7}{b|10}{s|4}', rich: {
      x: {fontFamily: FONT, fontSize: 38, fill: '#777', padding: [8, 4, 0, 0]},
      b: {fontFamily: FONT, fontSize: 40, fill: TXT, padding: [8, 0, 0, 0]},
      s: {fontFamily: FONT, fontSize: 28, fill: TXT, padding: [0, 0, 14, 0]}}}},
    {type: 'text', left: 52, top: 1056, style: {text: '(a)', fontFamily: FONT, fontSize: 78, fill: '#333'}},
    {type: 'text', left: 1660, top: 1031, style: {text: '(b)', fontFamily: FONT, fontSize: 78, fill: '#333'}},
    {type: 'text', left: 66, top: 2246, style: {text: '(c)', fontFamily: FONT, fontSize: 78, fill: '#333'}}
  ]
};
const chart = echarts.init(document.getElementById('c'), null, {renderer: 'canvas', width: 3212, height: 2527});
chart.setOption(option);
</script></body></html>
